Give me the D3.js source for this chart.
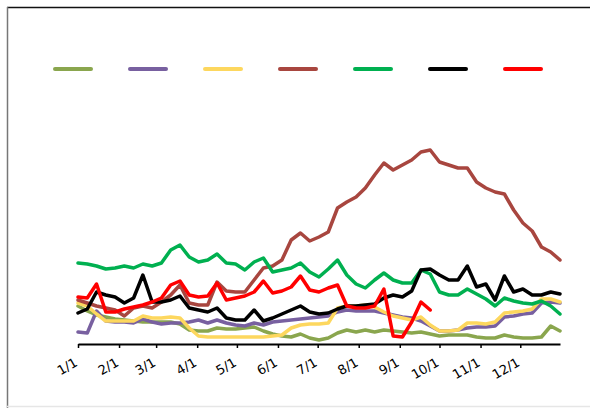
<!DOCTYPE html>
<html>
<head>
<meta charset="utf-8">
<script src="https://cdn.jsdelivr.net/npm/d3@7"></script>
<style>
  body { margin: 0; background: #fff; }
  svg { display: block; }
</style>
</head>
<body>
<svg id="chart" width="590" height="408"></svg>
<script>
// weekly samples starting 1/1
const startDate = new Date(2013, 0, 1);
const endDate = new Date(2013, 11, 31);
const weeks = d3.range(53).map(k => d3.timeDay.offset(startDate, k * 7));

const monthTicks = d3.range(12).map(m => new Date(2013, m, 1));
const tickLabels = ["1/1", "2/1", "3/1", "4/1", "5/1", "6/1", "7/1", "8/1", "9/1", "10/1", "11/1", "12/1"];

const seriesNames = ["s1", "s2", "s3", "s4", "s5", "s6", "s7"];
const seriesColors = ["#8aa64e", "#7860a0", "#fdd75e", "#a8463f", "#00b050", "#000000", "#ff0000"];

const olive  = [38,33,29,27,25,24,23,22,22,22,22,20,14,13,13,16,15,15,16,17,13,10,8,7,10,6,4,6,11,14,12,14,12,14,13,12,11,12,10,8,9,9,9,7,6,6,9,7,6,6,7,18,13];
const purple = [12,11,33,23,22,22,21,25,22,20,21,21,22,24,21,24,21,19,18,21,19,22,23,24,25,26,27,28,32,34,33,33,33,31,29,27,26,23,18,13,13,14,16,17,17,18,27,28,30,31,41,42,41];
const yellow = [41,38,30,23,23,23,23,28,26,26,27,26,16,8,7,7,7,7,7,7,7,8,9,16,19,20,20,21,36,38,38,39,37,32,28,26,24,27,19,13,13,14,21,21,20,22,31,32,33,35,45,45,42];
const brown  = [44,41,38,36,34,28,36,38,36,42,49,59,41,39,39,62,53,52,52,64,76,78,84,104,111,103,107,112,136,142,147,156,169,181,174,179,184,192,194,182,179,176,176,162,156,152,150,134,121,113,97,92,84];
const green  = [81,80,78,75,76,78,76,80,78,81,94,99,87,82,84,90,81,80,74,82,86,72,74,76,81,72,67,75,84,69,60,56,64,71,64,61,61,74,70,52,49,49,55,50,45,38,46,43,41,40,43,38,30];
const black  = [31,35,52,49,47,41,46,69,42,42,44,48,36,34,32,36,26,24,24,34,23,26,30,34,38,32,30,31,35,38,38,39,40,46,49,47,53,74,75,69,64,64,78,57,60,44,68,52,55,49,49,52,50];
const red    = [47,46,60,32,32,35,37,39,42,46,59,63,49,47,48,61,44,46,48,52,63,51,53,57,68,54,52,56,59,38,36,36,38,55,8,7,22,42,34];

const seriesValues = [olive, purple, yellow, brown, green, black, red];

const svg = d3.select("#chart");

// outer frame
svg.append("line")
  .attr("x1", 7).attr("y1", 7.5).attr("x2", 590).attr("y2", 7.5)
  .attr("stroke", "#111").attr("stroke-width", 1.5);
svg.append("line")
  .attr("x1", 7.5).attr("y1", 7).attr("x2", 7.5).attr("y2", 408)
  .attr("stroke", "#777").attr("stroke-width", 1.5);
svg.append("line")
  .attr("x1", 7).attr("y1", 406.5).attr("x2", 590).attr("y2", 406.5)
  .attr("stroke", "#e6e6e6").attr("stroke-width", 1.5);

const x = d3.scaleTime().domain([startDate, endDate]).range([78, 560]);
const y = d3.scaleLinear().domain([0, 300]).range([344, 44]);

const line = d3.line()
  .x((d, i) => x(weeks[i]))
  .y(d => y(d));

// series lines
seriesValues.forEach((vals, i) => {
  svg.append("path")
    .datum(vals)
    .attr("fill", "none")
    .attr("stroke", seriesColors[i])
    .attr("stroke-width", 3.5)
    .attr("stroke-linejoin", "round")
    .attr("stroke-linecap", "round")
    .attr("d", line);
});

// x axis
const xAxis = d3.axisBottom(x)
  .tickValues(monthTicks)
  .tickSize(4)
  .tickSizeOuter(0)
  .tickFormat((d, i) => tickLabels[i]);

const gx = svg.append("g")
  .attr("transform", "translate(0,344)")
  .call(xAxis);

gx.select(".domain").attr("stroke", "#000").attr("stroke-width", 2);
gx.selectAll(".tick line").attr("stroke", "#000").attr("stroke-width", 1.5);
gx.selectAll(".tick text")
  .attr("font-family", "DejaVu Sans, sans-serif")
  .attr("font-size", 13)
  .attr("fill", "#000")
  .attr("text-anchor", "end")
  .attr("y", 0).attr("dy", 0)
  .attr("transform", "translate(0,21) rotate(-30)");

// legend: swatches only
const legendX = d3.scalePoint().domain(seriesNames).range([55, 505]);
seriesNames.forEach((name, i) => {
  svg.append("line")
    .attr("x1", legendX(name)).attr("x2", legendX(name) + 36)
    .attr("y1", 69).attr("y2", 69)
    .attr("stroke", seriesColors[i])
    .attr("stroke-width", 4)
    .attr("stroke-linecap", "round");
});
</script>
</body>
</html>
